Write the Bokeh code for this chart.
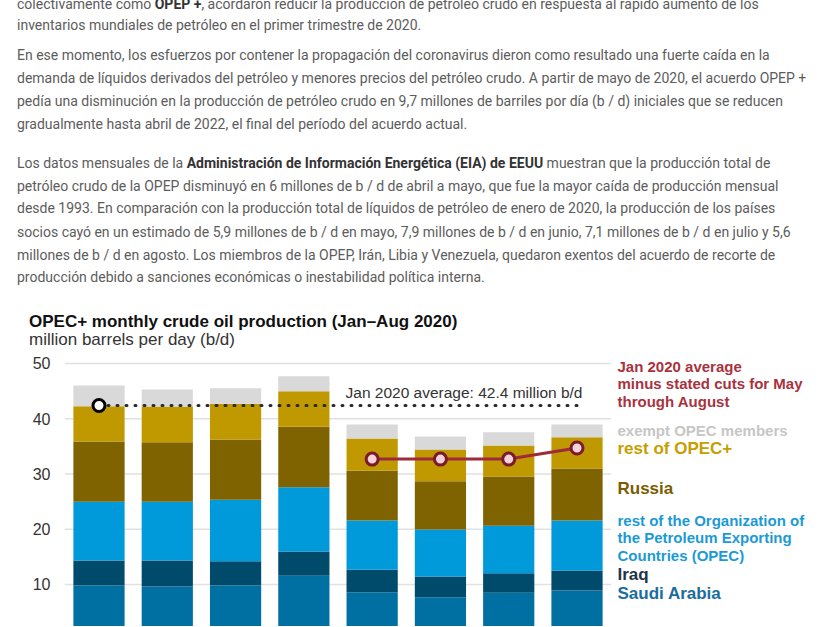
from bokeh.plotting import figure
from bokeh.models import Range1d, FixedTicker, Div, ColumnDataSource
from bokeh.layouts import column
from bokeh.embed import file_html
from bokeh.resources import INLINE
from bokeh.core.properties import value

# ---------------- data ----------------
months = ["Jan", "Feb", "Mar", "Apr", "May", "Jun", "Jul", "Aug"]
saudi_arabia = [9.82, 9.64, 9.82, 11.57, 8.58, 7.70, 8.49, 8.91]
iraq = [4.52, 4.70, 4.40, 4.40, 4.08, 3.75, 3.56, 3.62]
rest_of_opec = [10.63, 10.63, 11.11, 11.63, 8.92, 8.50, 8.57, 9.05]
russia = [10.93, 10.79, 10.91, 10.94, 8.99, 8.75, 8.93, 9.42]
rest_of_opec_plus = [6.37, 6.44, 6.46, 6.45, 5.85, 5.73, 5.61, 5.67]
exempt_opec = [3.73, 3.10, 2.83, 2.71, 2.56, 2.36, 2.41, 2.29]
jan_average = 42.4
cut_months = ["May", "Jun", "Jul", "Aug"]
target_after_cuts = [32.7, 32.7, 32.7, 34.7]
y_ticks = [10, 20, 30, 40, 50]

legend_lines = ["Jan 2020 average", "minus stated cuts for May", "through August",
                "exempt OPEC members", "rest of OPEC+", "Russia",
                "rest of the Organization of", "the Petroleum Exporting",
                "Countries (OPEC)", "Iraq", "Saudi Arabia"]

chart_title = "OPEC+ monthly crude oil production (Jan\u2013Aug 2020)"
chart_subtitle = "million barrels per day (b/d)"
avg_label = "Jan 2020 average: 42.4 million b/d"

paragraph_lines = [
    "colectivamente como <b>OPEP +</b>, acordaron reducir la producción de petróleo crudo en respuesta al rápido aumento de los",
    "inventarios mundiales de petróleo en el primer trimestre de 2020.",
    "En ese momento, los esfuerzos por contener la propagación del coronavirus dieron como resultado una fuerte caída en la",
    "demanda de líquidos derivados del petróleo y menores precios del petróleo crudo. A partir de mayo de 2020, el acuerdo OPEP +",
    "pedía una disminución en la producción de petróleo crudo en 9,7 millones de barriles por día (b / d) iniciales que se reducen",
    "gradualmente hasta abril de 2022, el final del período del acuerdo actual.",
    "Los datos mensuales de la <b>Administración de Información Energética (EIA) de EEUU</b> muestran que la producción total de",
    "petróleo crudo de la OPEP disminuyó en 6 millones de b / d de abril a mayo, que fue la mayor caída de producción mensual",
    "desde 1993. En comparación con la producción total de líquidos de petróleo de enero de 2020, la producción de los países",
    "socios cayó en un estimado de 5,9 millones de b / d en mayo, 7,9 millones de b / d en junio, 7,1 millones de b / d en julio y 5,6",
    "millones de b / d en agosto. Los miembros de la OPEP, Irán, Libia y Venezuela, quedaron exentos del acuerdo de recorte de",
    "producción debido a sanciones económicas o inestabilidad política interna.",
]

# ---------------- layout / style ----------------
para_tops = [-6.5, 15, 45, 68, 91, 114, 152.7, 175.7, 198.3, 221.7, 245, 267]
title_top = 311.7
subtitle_top = 329.5
text_left = 17
title_left = 29

stack_colors = ["#0070a3", "#004b6c", "#0099d9", "#7f6301", "#c09800", "#d9d9d9"]
legend_colors = ["#a8323e", "#a8323e", "#a8323e", "#c6c6c6", "#c69e00", "#7a5d00",
                 "#1b9ad6", "#1b9ad6", "#1b9ad6", "#1f3447", "#1a6e9e"]
legend_sizes = ["15px", "15px", "15px", "15px", "17px", "17px",
                "15px", "15px", "15px", "17px", "17px"]
legend_y = [49.51, 46.30, 43.21, 37.87, 34.60, 27.43, 21.52, 18.45, 15.25, 11.80, 8.32]
legend_x = 7.593

# ---------------- text block ----------------
html = ['<div style="position:relative;width:836px;height:352px;overflow:visible;'
        'font-family:Roboto,sans-serif;font-size:14px;color:#5c5c5c;">']
for top, line in zip(para_tops, paragraph_lines):
    line = line.replace("<b>", '<b style="color:#333">')
    html.append(f'<div style="position:absolute;left:{text_left}px;top:{top}px;line-height:20px;'
                f'white-space:nowrap;">{line}</div>')
html.append(f'<div style="position:absolute;left:{title_left}px;top:{title_top}px;line-height:20px;'
            f'white-space:nowrap;font-family:\'Liberation Sans\',Arial,sans-serif;font-size:17px;'
            f'font-weight:bold;color:#111;">{chart_title}</div>')
html.append(f'<div style="position:absolute;left:{title_left}px;top:{subtitle_top}px;line-height:20px;'
            f'white-space:nowrap;font-family:\'Liberation Sans\',Arial,sans-serif;font-size:17px;'
            f'color:#333;">{chart_subtitle}</div>')
html.append('</div>')
div = Div(text="".join(html), width=836, height=352, margin=(0, 0, 0, 0))

# ---------------- chart ----------------
x = list(range(len(months)))
source = ColumnDataSource(dict(
    x=x, saudi=saudi_arabia, iraq=iraq, ropec=rest_of_opec, russia=russia,
    ropecplus=rest_of_opec_plus, exempt=exempt_opec))
stackers = ["saudi", "iraq", "ropec", "russia", "ropecplus", "exempt"]

p = figure(width=836, height=274, output_backend="svg", toolbar_location=None,
           x_range=Range1d(-0.593, 10.80), y_range=Range1d(2.398, 51.99),
           min_border_left=58, min_border_right=0, min_border_top=0, min_border_bottom=0,
           margin=(0, 0, 0, 0))
p.outline_line_color = None
p.xgrid.visible = False
p.ygrid.visible = False
p.xaxis.visible = False
p.yaxis.ticker = FixedTicker(ticks=y_ticks)
p.yaxis.axis_line_color = None
p.yaxis.major_tick_line_color = None
p.yaxis.minor_tick_line_color = None
p.yaxis.major_tick_out = 0
p.yaxis.major_tick_in = 0
p.yaxis.minor_tick_out = 0
p.yaxis.major_label_standoff = 8
p.yaxis.major_label_text_font = "Liberation Sans"
p.yaxis.major_label_text_font_size = "16px"
p.yaxis.major_label_text_color = "#333333"

# gridlines (only across the bars)
p.segment(x0=-0.5, x1=len(months) - 0.5, y0=y_ticks, y1=y_ticks,
          line_color="#e1e1e1", line_width=1.5)

p.vbar_stack(stackers, x="x", width=0.75, source=source,
             fill_color=stack_colors, line_color=None)

# Jan average dotted line
p.line(x=[0, len(months) - 1], y=[jan_average, jan_average], line_color="#2a2a2a",
       line_width=3, line_dash="1 8", line_cap="round")
p.scatter(x=[0], y=[jan_average], size=12, fill_color="white", line_color="black", line_width=3)
p.text(x=[7.08], y=[44.75], text=[avg_label], text_font=value("Liberation Sans"),
       text_font_size="15.5px", text_color="#333333", text_align="right", text_baseline="middle")

# Jan average minus stated cuts
cut_x = [months.index(m) for m in cut_months]
p.line(x=cut_x, y=target_after_cuts, line_color="#9e2a3c", line_width=3)
p.scatter(x=cut_x, y=target_after_cuts, size=12, fill_color="#f3d3da",
          line_color="#7a1a2c", line_width=3)

# direct labels
label_src = ColumnDataSource(dict(x=[legend_x] * len(legend_lines), y=legend_y, text=legend_lines,
                                  color=legend_colors, size=legend_sizes))
p.text(x="x", y="y", text="text", source=label_src,
       text_font=value("Liberation Sans"), text_font_style="bold", text_font_size="size",
       text_color="color", text_align="left", text_baseline="middle")

layout = column(div, p, spacing=0, margin=(0, 0, 0, 0))
open("out.html", "w").write(file_html(layout, INLINE))
